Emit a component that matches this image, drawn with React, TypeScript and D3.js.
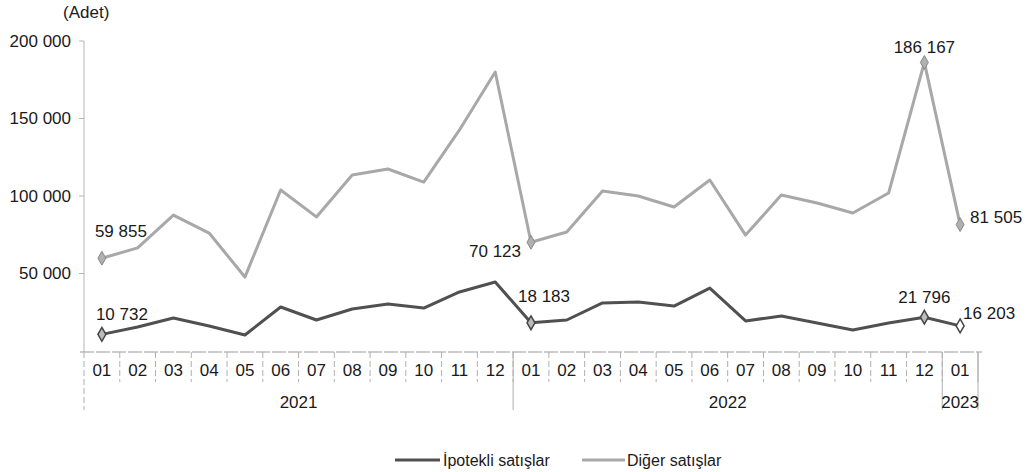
import React from 'react';
import * as d3 from 'd3';

const months = ['01','02','03','04','05','06','07','08','09','10','11','12','01','02','03','04','05','06','07','08','09','10','11','12','01'];
const yearLabels = ['2021', '2022', '2023'];
const yearSpans = [12, 12, 1];

const digerSatislar = [59855, 66500, 87700, 76100, 47700, 103900, 86500, 113500, 117400, 109000, 142600, 180000,
  70123, 76800, 103200, 100000, 92900, 110300, 74800, 100600, 95500, 89000, 101900, 186167, 81505];
const ipotekliSatislar = [10732, 15500, 21300, 16100, 10300, 28400, 20000, 27100, 30300, 27700, 38100, 44500,
  18183, 20000, 31000, 31600, 29000, 40600, 19400, 22600, 18100, 13500, 18100, 21796, 16203];

const yTicks = [50000, 100000, 150000, 200000];
const labelledIdx = [0, 12, 23, 24];

const W = 1029, H = 472;
const FONT = '"Liberation Sans", Arial, sans-serif';
const fmt = (v: number) => d3.format(',')(v).replace(/,/g, ' ');

export default function App() {
  const x = d3.scaleBand<number>().domain(months.map((_, i) => i)).range([84, 978]).padding(0);
  const bw = x.bandwidth();
  const cx = (i: number) => (x(i) as number) + bw / 2;
  const y = d3.scaleLinear().domain([0, 200000]).range([351, 41]);
  const axisY = y(0) + 1;

  const line = d3.line<number>().x((_, i) => cx(i)).y(d => y(d));
  const diamond = d3.symbol().type(d3.symbolDiamond).size(55)();

  const upperColor = '#a8a8a8';
  const lowerColor = '#505050';
  const textColor = '#1a1a1a';

  const upperLabelPos: [number, number, string][] = [[-7, -27, 'start'], [-10, 9, 'end'], [0, -15, 'middle'], [10, -8, 'start']];
  const lowerLabelPos: [number, number, string][] = [[-6, -20, 'start'], [-13, -27, 'start'], [0, -20, 'middle'], [3, -13, 'start']];

  let acc = 0;
  const yearBounds = yearSpans.map(s => { const st = acc; acc += s; return [st, acc]; });

  return (
    <svg width={W} height={H} style={{ position: 'absolute', left: 0, top: 0, background: '#fff' }} fontFamily={FONT}>
      <text x={63} y={12} dy="0.35em" fontSize={17} fill={textColor}>(Adet)</text>

      <line x1={84} x2={84} y1={y(200000)} y2={axisY} stroke="#b5b5b5" strokeWidth={1} />
      {yTicks.map(t => (
        <g key={t}>
          <line x1={79} x2={84} y1={y(t)} y2={y(t)} stroke="#b5b5b5" />
          <text x={71} y={y(t)} dy="0.35em" textAnchor="end" fontSize={17} fill={textColor}>{fmt(t)}</text>
        </g>
      ))}

      <line x1={80} x2={982} y1={axisY} y2={axisY} stroke="#999" strokeWidth={1.2} strokeDasharray="14 2" />
      {months.map((m, i) => (
        <g key={i}>
          {i > 0 && <line x1={x(i)} x2={x(i)} y1={axisY} y2={axisY + 30} stroke="#b0b0b0" strokeDasharray="6 3" />}
          <text x={cx(i)} y={370} dy="0.35em" textAnchor="middle" fontSize={17} fill={textColor}>{m}</text>
        </g>
      ))}
      <line x1={x(24)! + bw} x2={x(24)! + bw} y1={axisY} y2={axisY + 30} stroke="#b0b0b0" />
      {yearBounds.map(([s, e], k) => (
        <g key={k}>
          <line x1={x(s)} x2={x(s)} y1={axisY} y2={410} stroke="#b0b0b0" strokeDasharray={k === 0 ? '6 3' : undefined} />
          {k === yearBounds.length - 1 && <line x1={(x(e - 1) as number) + bw} x2={(x(e - 1) as number) + bw} y1={axisY} y2={410} stroke="#b0b0b0" />}
          <text x={((x(s) as number) + (x(e - 1) as number) + bw) / 2} y={402} dy="0.35em" textAnchor="middle" fontSize={17} fill={textColor}>{yearLabels[k]}</text>
        </g>
      ))}

      <path d={line(digerSatislar) || ''} fill="none" stroke={upperColor} strokeWidth={3} strokeLinejoin="round" />
      <path d={line(ipotekliSatislar) || ''} fill="none" stroke={lowerColor} strokeWidth={3} strokeLinejoin="round" />

      {labelledIdx.map((i, k) => (
        <g key={'u' + i}>
          <path d={diamond || ''} transform={`translate(${cx(i)},${y(digerSatislar[i])})`} fill="#b0b0b0" stroke="#888" />
          <text x={cx(i) + upperLabelPos[k][0]} y={y(digerSatislar[i]) + upperLabelPos[k][1]} dy="0.35em"
            textAnchor={upperLabelPos[k][2] as any} fontSize={17} fill={textColor}>{fmt(digerSatislar[i])}</text>
        </g>
      ))}
      {labelledIdx.map((i, k) => (
        <g key={'l' + i}>
          <path d={diamond || ''} transform={`translate(${cx(i)},${y(ipotekliSatislar[i])})`} fill={k === 3 ? '#fff' : '#bbb'} stroke="#444" strokeWidth={1.5} />
          <text x={cx(i) + lowerLabelPos[k][0]} y={y(ipotekliSatislar[i]) + lowerLabelPos[k][1]} dy="0.35em"
            textAnchor={lowerLabelPos[k][2] as any} fontSize={17} fill={textColor}>{fmt(ipotekliSatislar[i])}</text>
        </g>
      ))}

      <line x1={395} x2={440} y1={460} y2={460} stroke={lowerColor} strokeWidth={3} />
      <text x={443} y={460} dy="0.35em" fontSize={16} fill={textColor}>İpotekli satışlar</text>
      <line x1={582} x2={625} y1={460} y2={460} stroke={upperColor} strokeWidth={3} />
      <text x={627} y={460} dy="0.35em" fontSize={16} fill={textColor}>Diğer satışlar</text>
    </svg>
  );
}
